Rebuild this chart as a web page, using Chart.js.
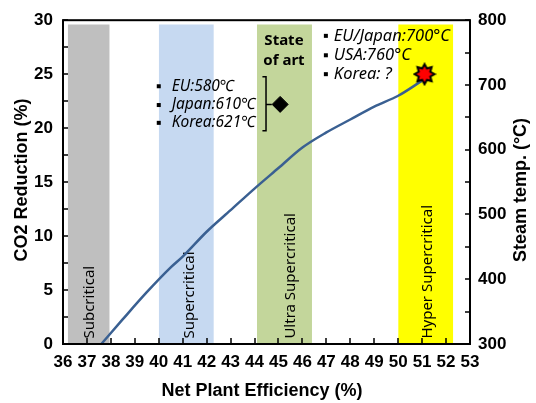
<!DOCTYPE html>
<html>
<head>
<meta charset="utf-8">
<script src="https://cdn.jsdelivr.net/npm/chart.js@4.4.0/dist/chart.umd.min.js"></script>
<style>
  html, body { margin: 0; padding: 0; background: #fff; }
  #wrap { width: 536px; height: 403px; }
</style>
</head>
<body>
<div id="wrap"><canvas id="chart"></canvas></div>
<script>
// CO2 reduction vs net plant efficiency
const effX = [37.6, 38.5, 39.5, 40.5, 41.0, 42.0, 43.0, 44.0, 45.0, 46.0, 47.0, 48.0, 49.0, 50.0, 51.0];
const co2Y = [0, 2.3, 4.8, 7.1, 8.1, 10.4, 12.4, 14.4, 16.3, 18.2, 19.6, 20.8, 22.0, 23.0, 24.4];

// technology bands
const bandNames = ['Subcritical', 'Supercritical', 'Ultra Supercritical', 'Hyper Supercritical'];
const bandFrom = [36.2, 40.0, 44.1, 50.0];
const bandTo = [37.95, 42.3, 46.4, 52.3];
const bandTop = 29.6;
const bandColors = ['#bfbfbf', '#c6d9f1', '#c3d69b', '#ffff00'];
const bandLabelX = [37.1, 41.3, 45.5, 51.25];

// markers
const diamondXY = [45.07, 22.2];
const starXY = [51.1, 25.0];
const bracketX = [44.33, 44.48, 44.48, 44.33];
const bracketY = [24.75, 24.75, 19.75, 19.75];
const bracketTickX = [44.48, 44.72];

// notes
const note1Lines = ['EU:580\u2103', 'Japan:610\u2103', 'Korea:621\u2103'];
const note1X = 40.0;
const note1Y = [23.88, 22.14, 20.49];
const note2Lines = ['EU/Japan:700\u00b0C', 'USA:760\u00b0C', 'Korea: ?'];
const note2X = 46.98;
const note2Y = [28.55, 26.75, 25.0];
const stateLines = ['State', 'of art'];
const stateX = 45.23;
const stateY = [28.1, 26.2];

// axes
const xTicks = [36, 37, 38, 39, 40, 41, 42, 43, 44, 45, 46, 47, 48, 49, 50, 51, 52, 53];
const yTicks = [0, 5, 10, 15, 20, 25, 30];
const y2Ticks = [300, 400, 500, 600, 700, 800];
const xTitle = 'Net Plant Efficiency (%)';
const yTitle = 'CO2 Reduction (%)';
const y2Title = 'Steam temp. (\u00b0C)';

Chart.defaults.font.family = "'Liberation Sans', Arial, sans-serif";
Chart.defaults.color = '#000';

function makeStar(r) {
    const size = Math.ceil(2 * r + 4);
    const c = document.createElement('canvas');
    c.width = size;
    c.height = size;
    const g = c.getContext('2d');
    g.beginPath();
    for (let i = 0; i < 16; i++) {
        const a = -Math.PI / 2 + i * Math.PI / 8;
        const rr = i % 2 ? r * 0.62 : r;
        g.lineTo(size / 2 + rr * Math.cos(a), size / 2 + rr * Math.sin(a));
    }
    g.closePath();
    g.fillStyle = '#ff0000';
    g.fill();
    g.lineWidth = 2;
    g.strokeStyle = '#000';
    g.stroke();
    return c;
}

const bandSets = bandNames.map((name, i) => ({
    label: name,
    data: [{ x: bandFrom[i], y: bandTop }, { x: bandTo[i], y: bandTop }],
    borderWidth: 0,
    pointRadius: 0,
    backgroundColor: bandColors[i],
    fill: 'origin',
    order: 2
}));

function drawNotes(ctx, x, y, lines, bx, ys, gap) {
    lines.forEach((t, i) => {
        const px = x.getPixelForValue(bx);
        const py = y.getPixelForValue(ys[i]);
        ctx.fillRect(px - 2, py - 2, 4, 4);
        ctx.fillText(t, px + gap, py);
    });
}

const decor = {
    id: 'decor',
    beforeDatasetDraw(chart, args) {
        if (args.index !== 0) return;
        const { ctx, scales: { x, y } } = chart;
        ctx.save();
        ctx.font = '15px "Noto Sans"';
        ctx.fillStyle = '#000';
        ctx.textBaseline = 'middle';
        ctx.textAlign = 'left';
        bandNames.forEach((name, i) => {
            ctx.save();
            ctx.translate(x.getPixelForValue(bandLabelX[i]), y.getPixelForValue(0.5));
            ctx.rotate(-Math.PI / 2);
            ctx.fillText(name, 0, 0);
            ctx.restore();
        });
        ctx.restore();
    },
    afterDraw(chart) {
        const { ctx, chartArea: a, scales: { x, y, y2 } } = chart;
        ctx.save();

        // frame
        ctx.strokeStyle = '#000';
        ctx.lineWidth = 2;
        ctx.strokeRect(a.left, a.top, a.right - a.left, a.bottom - a.top);

        // inward ticks
        ctx.lineWidth = 1.5;
        ctx.beginPath();
        for (let v = 36; v <= 53; v += 1) {
            const px = Math.round(x.getPixelForValue(v));
            ctx.moveTo(px, a.bottom);
            ctx.lineTo(px, a.bottom - 6);
        }
        for (let v = 0; v <= 30; v += 2.5) {
            const py = Math.round(y.getPixelForValue(v));
            ctx.moveTo(a.left, py);
            ctx.lineTo(a.left + 5, py);
        }
        for (let v = 300; v <= 800; v += 50) {
            const py = Math.round(y2.getPixelForValue(v));
            ctx.moveTo(a.right, py);
            ctx.lineTo(a.right - 5, py);
        }
        ctx.stroke();

        // bracket
        ctx.lineWidth = 1.5;
        ctx.beginPath();
        bracketX.forEach((bx, i) => {
            const px = x.getPixelForValue(bx), py = y.getPixelForValue(bracketY[i]);
            if (i === 0) ctx.moveTo(px, py); else ctx.lineTo(px, py);
        });
        ctx.moveTo(x.getPixelForValue(bracketTickX[0]), y.getPixelForValue(diamondXY[1]));
        ctx.lineTo(x.getPixelForValue(bracketTickX[1]), y.getPixelForValue(diamondXY[1]));
        ctx.stroke();

        // notes
        ctx.fillStyle = '#000';
        ctx.textBaseline = 'middle';
        ctx.textAlign = 'left';
        ctx.font = 'italic 15.5px "Noto Sans"';
        drawNotes(ctx, x, y, note1Lines, note1X, note1Y, 13);
        ctx.font = 'italic 16.5px "Noto Sans"';
        drawNotes(ctx, x, y, note2Lines, note2X, note2Y, 8);

        ctx.font = 'bold 15px "Noto Sans"';
        ctx.textAlign = 'center';
        stateLines.forEach((t, i) => {
            ctx.fillText(t, x.getPixelForValue(stateX), y.getPixelForValue(stateY[i]));
        });

        // axis titles
        ctx.font = "bold 18px 'Liberation Sans', Arial, sans-serif";
        ctx.fillText(xTitle, 262, 391);
        ctx.save();
        ctx.translate(22, 180);
        ctx.rotate(-Math.PI / 2);
        ctx.fillText(yTitle, 0, 0);
        ctx.restore();
        ctx.save();
        ctx.translate(521, 190);
        ctx.rotate(-Math.PI / 2);
        ctx.fillText(y2Title, 0, 0);
        ctx.restore();

        ctx.restore();
    }
};

new Chart(document.getElementById('chart'), {
    type: 'line',
    data: {
        datasets: [
            {
                label: 'CO2 Reduction',
                data: effX.map((v, i) => ({ x: v, y: co2Y[i] })),
                borderColor: '#3a6092',
                borderWidth: 2.5,
                pointRadius: 0,
                cubicInterpolationMode: 'monotone',
                fill: false,
                order: 0
            },
            {
                label: 'State of art',
                data: [{ x: diamondXY[0], y: diamondXY[1] }],
                showLine: false,
                pointStyle: 'rectRot',
                pointRadius: 8,
                backgroundColor: '#000',
                borderColor: '#000',
                order: -1
            },
            {
                label: 'Target',
                data: [{ x: starXY[0], y: starXY[1] }],
                showLine: false,
                pointStyle: makeStar(10),
                pointRadius: 11,
                order: -1
            },
            ...bandSets
        ]
    },
    options: {
        responsive: true,
        maintainAspectRatio: false,
        animation: false,
        layout: { padding: { top: 16, left: 0, right: 0, bottom: 0 }, autoPadding: false },
        plugins: {
            legend: { display: false },
            tooltip: { enabled: false }
        },
        scales: {
            x: {
                type: 'linear',
                min: 36,
                max: 53,
                afterBuildTicks: s => { s.ticks = xTicks.map(v => ({ value: v })); },
                afterFit: s => { s.height = 59; },
                grid: { display: false, drawTicks: false },
                border: { display: false },
                ticks: { font: { size: 17, weight: 'bold' }, padding: 8, maxRotation: 0, autoSkip: false }
            },
            y: {
                position: 'left',
                min: 0,
                max: 30,
                afterBuildTicks: s => { s.ticks = yTicks.map(v => ({ value: v })); },
                afterFit: s => { s.width = 63; },
                grid: { display: false, drawTicks: false },
                border: { display: false },
                ticks: { font: { size: 17, weight: 'bold' }, padding: 10 }
            },
            y2: {
                position: 'right',
                min: 300,
                max: 800,
                afterBuildTicks: s => { s.ticks = y2Ticks.map(v => ({ value: v })); },
                afterFit: s => { s.width = 66; },
                grid: { display: false, drawTicks: false },
                border: { display: false },
                ticks: { font: { size: 17, weight: 'bold' }, padding: 8 }
            }
        }
    },
    plugins: [decor]
});
</script>
</body>
</html>
